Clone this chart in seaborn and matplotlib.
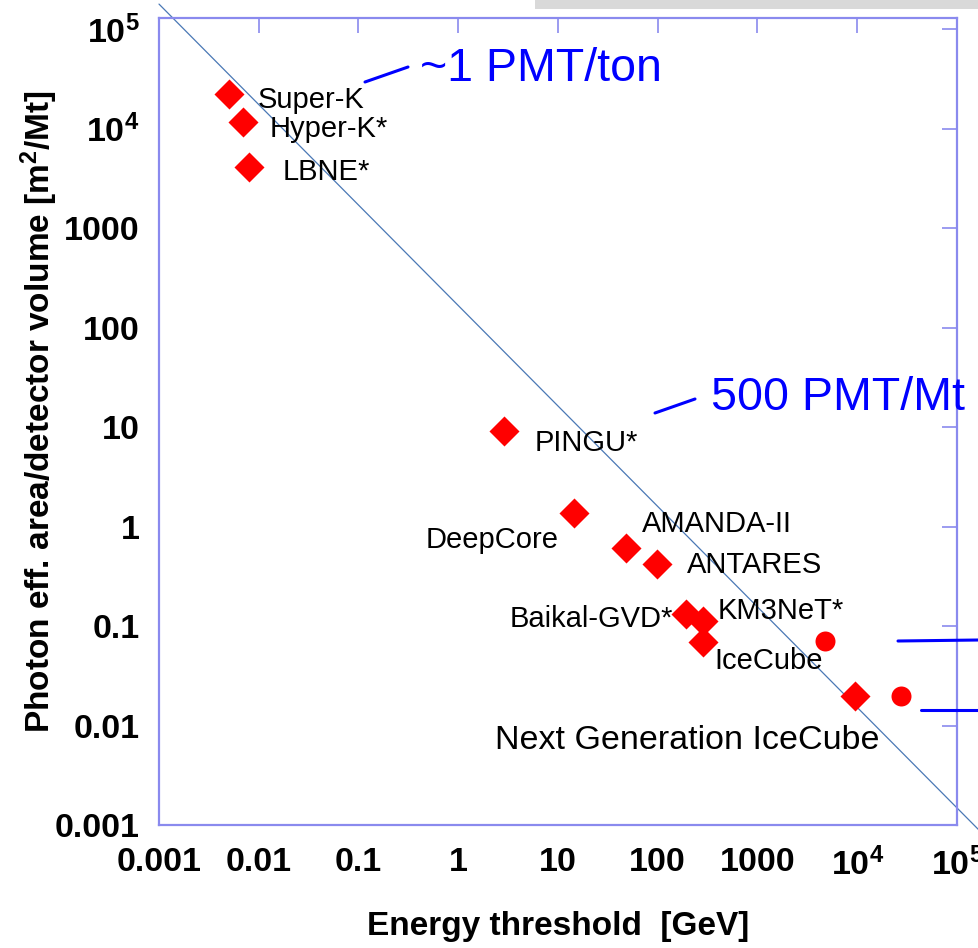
import numpy as np
import pandas as pd
import matplotlib
matplotlib.use("Agg")
import matplotlib.pyplot as plt
import seaborn as sns
from matplotlib.lines import Line2D
from matplotlib.patches import Rectangle
from matplotlib.ticker import FixedLocator, FixedFormatter, NullLocator

# ---------------- data ----------------
detectors = ["Super-K", "Hyper-K*", "LBNE*", "PINGU*", "DeepCore", "AMANDA-II",
             "ANTARES", "Baikal-GVD*", "KM3NeT*", "IceCube", "Next Generation IceCube"]
energy_gev = [0.005, 0.0069, 0.0079, 2.9, 14.5, 48, 98, 190, 282, 282, 9500]
area_per_volume = [2.2e4, 1.16e4, 4100, 9.1, 1.37, 0.61, 0.42, 0.132, 0.112, 0.069, 0.020]

option_energy = [4700, 27500]
option_area = [0.071, 0.020]

ref_line_x = [1e-3, 1.66e5]
ref_line_y = [1.78e5, 8.9e-4]

xtick_vals = [1e-3, 1e-2, 1e-1, 1, 10, 100, 1000, 1e4, 1e5]
xtick_labels = ["0.001", "0.01", "0.1", "1", "10", "100", "1000",
                r"$\mathbf{10^{4}}$", r"$\mathbf{10^{5}}$"]
ytick_vals = xtick_vals
ytick_labels = xtick_labels

# ---------------- style ----------------
sns.set_style("white")
plt.rcParams["font.family"] = ["Liberation Sans", "DejaVu Sans"]
plt.rcParams["mathtext.fontset"] = "custom"
plt.rcParams["mathtext.rm"] = "Liberation Sans"
plt.rcParams["mathtext.bf"] = "Liberation Sans:bold"
plt.rcParams["mathtext.it"] = "Liberation Sans:italic"
plt.rcParams["text.color"] = "black"
plt.rcParams["axes.labelcolor"] = "black"
plt.rcParams["xtick.labelcolor"] = "black"
plt.rcParams["ytick.labelcolor"] = "black"

W, H = 979, 948
fig = plt.figure(figsize=(W / 100, H / 100), dpi=100)


def fx(px):
    return px / W


def fy(py):
    return 1 - py / H


ax = fig.add_axes([fx(159), fy(825), (957 - 159) / W, (825 - 18) / H])

df = pd.DataFrame({"energy": energy_gev, "area": area_per_volume, "name": detectors})
df_opt = pd.DataFrame({"energy": option_energy, "area": option_area})

sns.scatterplot(data=df, x="energy", y="area", marker="D", s=234, color="#ff0000",
                linewidth=0, ax=ax, zorder=3)
sns.scatterplot(data=df_opt, x="energy", y="area", marker="o", s=207, color="#ff0000",
                linewidth=0, ax=ax, zorder=3)

ax.set_xscale("log")
ax.set_yscale("log")
ax.set_xlim(1e-3, 1e5)
ax.set_ylim(1e-3, 1.29e5)

ax.plot(ref_line_x, ref_line_y, color="#4a78b5", lw=0.9, clip_on=False, zorder=2)

spine_c = "#8a8aee"
for s in ax.spines.values():
    s.set_visible(True)
    s.set_color(spine_c)
    s.set_linewidth(1.6)

ax.xaxis.set_major_locator(FixedLocator(xtick_vals))
ax.xaxis.set_major_formatter(FixedFormatter(xtick_labels))
ax.yaxis.set_major_locator(FixedLocator(ytick_vals))
ax.yaxis.set_major_formatter(FixedFormatter(ytick_labels))
ax.xaxis.set_minor_locator(NullLocator())
ax.yaxis.set_minor_locator(NullLocator())
ax.tick_params(axis="both", which="major", direction="in", length=11, width=1.2,
               color=spine_c, labelcolor="black", top=True, right=True, labelsize=24.5)
ax.tick_params(axis="x", pad=16)
ax.tick_params(axis="y", pad=14)
for lab in ax.get_xticklabels() + ax.get_yticklabels():
    lab.set_fontweight("bold")

ax.set_xlabel("Energy threshold  [GeV]", fontsize=24, fontweight="bold")
ax.set_ylabel(r"Photon eff. area/detector volume [m$^{\mathbf{2}}$/Mt]",
              fontsize=24, fontweight="bold")
ax.xaxis.label.set_va("center")
ax.yaxis.label.set_va("center")
ax.xaxis.set_label_coords(0.5, (825 - 926) / 807)
ax.yaxis.set_label_coords((39 - 159) / 798, (825 - 412) / 807)

# detector labels (pixel anchor: left, baseline)
label_px = {
    "Super-K": (258, 108),
    "Hyper-K*": (270, 137),
    "LBNE*": (283, 180),
    "PINGU*": (535, 451),
    "DeepCore": (426, 548),
    "AMANDA-II": (642, 532),
    "ANTARES": (687, 573),
    "Baikal-GVD*": (510, 627),
    "KM3NeT*": (718, 619),
    "IceCube": (714, 669),
}
for name in detectors[:-1]:
    x, y = label_px[name]
    fig.text(fx(x), fy(y), name, fontsize=21, color="black", ha="left", va="baseline")
fig.text(fx(495), fy(749), detectors[-1], fontsize=24.5, color="black",
         ha="left", va="baseline")

# blue slide annotations
blue = "#0000ff"
fig.text(fx(420), fy(81), "~1 PMT/ton", fontsize=33.5, color=blue, ha="left", va="baseline")
fig.text(fx(711), fy(410), "500 PMT/Mt", fontsize=33.5, color=blue, ha="left", va="baseline")
for (x1, y1, x2, y2) in [(365, 82, 408, 67), (655, 413, 695, 399),
                         (898, 641, 979, 640), (921, 710, 979, 710)]:
    fig.add_artist(Line2D([fx(x1), fx(x2)], [fy(y1), fy(y2)], color=blue, lw=2.2,
                          transform=fig.transFigure))

# grey slide bar at top right
fig.add_artist(Rectangle((fx(535), fy(9)), fx(979) - fx(535), 9 / H,
                         transform=fig.transFigure, color="#d9d9d9", lw=0, zorder=0))

fig.savefig("out.png", dpi=100)
